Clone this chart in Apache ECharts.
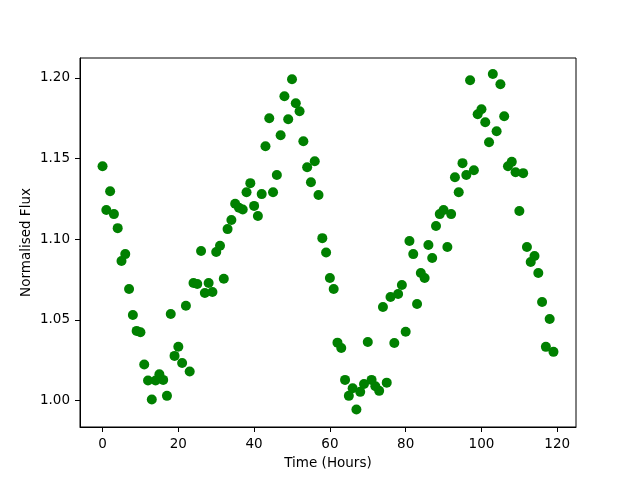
<!DOCTYPE html>
<html>
<head>
<meta charset="utf-8">
<script src="https://cdn.jsdelivr.net/npm/echarts@6/dist/echarts.min.js"></script>
<style>
  html, body { margin: 0; padding: 0; background: #fff; }
  #chart { width: 640px; height: 480px; }
</style>
</head>
<body>
<div id="chart"></div>
<script>
// hourly samples
var hours = [];
for (var h = 0; h < 120; h++) hours.push(h);

var flux = [
  1.1453, 1.1181, 1.1298, 1.1156, 1.1069, 1.0865, 1.0908, 1.0692, 1.0531, 1.0432,
  1.0423, 1.0223, 1.0124, 1.0006, 1.0124, 1.0163, 1.0128, 1.0029, 1.0537, 1.0277,
  1.0334, 1.0233, 1.0588, 1.0180, 1.0729, 1.0723, 1.0927, 1.0667, 1.0729, 1.0673,
  1.0921, 1.0960, 1.0755, 1.1063, 1.1119, 1.1220, 1.1195, 1.1185, 1.1292, 1.1348,
  1.1207, 1.1144, 1.1280, 1.1577, 1.1750, 1.1292, 1.1398, 1.1645, 1.1887, 1.1744,
  1.1992, 1.1843, 1.1794, 1.1608, 1.1447, 1.1354, 1.1484, 1.1274, 1.1007, 1.0918,
  1.0760, 1.0692, 1.0359, 1.0326, 1.0128, 1.0029, 1.0076, 0.9944, 1.0054, 1.0103,
  1.0363, 1.0128, 1.0089, 1.0060, 1.0580, 1.0111, 1.0642, 1.0357, 1.0661, 1.0716,
  1.0427, 1.0989, 1.0908, 1.0599, 1.0791, 1.0760, 1.0964, 1.0884, 1.1082, 1.1156,
  1.1181, 1.0952, 1.1156, 1.1385, 1.1292, 1.1472, 1.1398, 1.1986, 1.1428, 1.1775,
  1.1806, 1.1726, 1.1602, 1.2025, 1.1670, 1.1961, 1.1763, 1.1453, 1.1480, 1.1416,
  1.1175, 1.1410, 1.0952, 1.0859, 1.0896, 1.0791, 1.0611, 1.0333, 1.0506, 1.0302
];

var xTicks = [0, 20, 40, 60, 80, 100, 120];
var yTicks = [1.00, 1.05, 1.10, 1.15, 1.20];

var points = hours.map(function (h, i) { return [h, flux[i]]; });

var myChart = echarts.init(document.getElementById('chart'));
var font = 'DejaVu Sans';
var option = {
  animation: false,
  backgroundColor: '#fff',
  grid: {
    left: 80, right: 64, top: 58, bottom: 53,
    show: true, borderColor: '#000', borderWidth: 1
  },
  xAxis: {
    type: 'value',
    min: -5.95,
    max: 124.95,
    name: 'Time (Hours)',
    nameLocation: 'middle',
    nameGap: 29,
    nameMoveOverlap: false,
    nameTextStyle: { fontFamily: font, fontSize: 13.5, color: '#000' },
    axisLine: { show: true, onZero: false, lineStyle: { color: '#000', width: 1 } },
    axisTick: { show: true, length: 5, lineStyle: { color: '#000' }, customValues: xTicks },
    axisLabel: {
      margin: 10, fontFamily: font, fontSize: 13.5, color: '#000',
      customValues: xTicks
    },
    splitLine: { show: false }
  },
  yAxis: {
    type: 'value',
    min: 0.9836,
    max: 1.2124,
    name: 'Normalised Flux',
    nameLocation: 'middle',
    nameGap: 47,
    nameMoveOverlap: false,
    nameTextStyle: { fontFamily: font, fontSize: 13.5, color: '#000' },
    axisLine: { show: true, onZero: false, lineStyle: { color: '#000', width: 1 } },
    axisTick: { show: true, length: 5, lineStyle: { color: '#000' }, customValues: yTicks },
    axisLabel: {
      margin: 10, fontFamily: font, fontSize: 13.5, color: '#000',
      customValues: yTicks,
      formatter: function (v) { return v.toFixed(2); }
    },
    splitLine: { show: false }
  },
  series: [
    {
      type: 'scatter',
      data: points,
      symbol: 'circle',
      symbolSize: 10,
      itemStyle: { color: '#008000', opacity: 1 }
    }
  ]
};
myChart.setOption(option, true);
</script>
</body>
</html>
